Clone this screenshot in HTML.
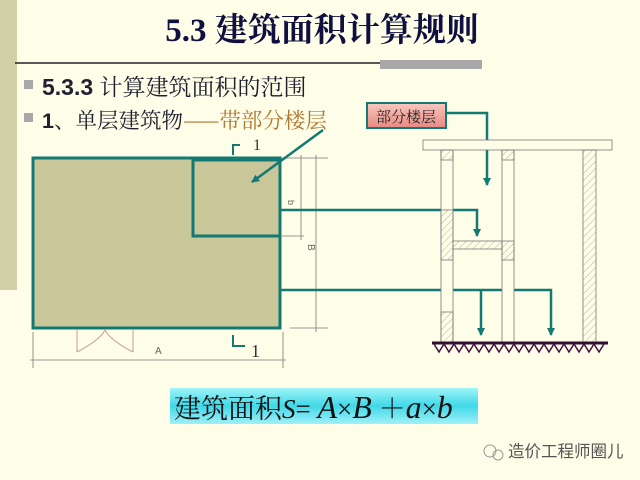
<!DOCTYPE html><html><head><meta charset="utf-8"><style>
body{margin:0;width:640px;height:480px;overflow:hidden;background:#fdfde8;font-family:"Liberation Sans","Noto Sans CJK SC",sans-serif}
</style></head><body>
<svg width="640" height="480" xmlns="http://www.w3.org/2000/svg" style="position:absolute;left:0;top:0">
<defs>
<pattern id="h" width="5" height="5" patternUnits="userSpaceOnUse" patternTransform="rotate(45)"><line x1="0" y1="0" x2="0" y2="5" stroke="#b8b49a" stroke-width="1"/></pattern>
<linearGradient id="cy" x1="0" y1="0" x2="0" y2="1"><stop offset="0" stop-color="#a0f4f8"/><stop offset=".5" stop-color="#40d8e8"/><stop offset="1" stop-color="#a0f0f8"/></linearGradient>
<linearGradient id="pk" x1="0" y1="0" x2="0" y2="1"><stop offset="0" stop-color="#f8c8c0"/><stop offset="1" stop-color="#e88880"/></linearGradient>
<marker id="a" markerWidth="8" markerHeight="8" refX="7" refY="4" orient="auto" markerUnits="userSpaceOnUse"><path d="M0,0 L8,4 L0,8 Z" fill="#127a72"/></marker>
</defs>
<rect x="0" y="0" width="17" height="290" fill="#d2d0a6"/>
<text x="322" y="41" text-anchor="middle" font-family="Liberation Serif,'Noto Serif CJK SC',serif" font-weight="bold" font-size="33" fill="#101040">5.3  建筑面积计算规则</text>
<line x1="15" y1="63" x2="470" y2="63" stroke="#222" stroke-width="1.5"/>
<rect x="380" y="60" width="102" height="9" fill="#a8a8a8"/>
<rect x="24" y="80" width="9" height="9" fill="#a8a8a8"/>
<text x="42" y="95" font-size="23" fill="#202030"><tspan font-weight="bold">5.3.3</tspan> <tspan font-family="'Noto Serif CJK SC',serif">计算建筑面积的范围</tspan></text>
<rect x="24" y="113" width="9" height="9" fill="#a8a8a8"/>
<text x="42" y="128" font-size="21.5" fill="#202030" font-family="'Noto Serif CJK SC',serif"><tspan font-weight="bold" font-family="Liberation Sans,sans-serif">1</tspan>、单层建筑物<tspan fill="#b07830">——带部分楼层</tspan></text>
<rect x="367" y="103" width="79" height="25" fill="url(#pk)" stroke="#127a72" stroke-width="2"/>
<text x="406" y="122" text-anchor="middle" font-size="15" font-family="'Noto Serif CJK SC',serif" fill="#222">部分楼层</text>
<rect x="33" y="158" width="247" height="170" fill="#c9c69a" stroke="#127a72" stroke-width="3"/>
<rect x="193" y="160" width="87" height="76" fill="none" stroke="#127a72" stroke-width="3"/>
<path d="M233,155 V145 H240" fill="none" stroke="#127a72" stroke-width="2"/>
<text x="253" y="150" font-size="16" font-family="Liberation Serif,serif" fill="#333">1</text>
<path d="M233,335 V346 H245" fill="none" stroke="#127a72" stroke-width="2"/>
<text x="251" y="357" font-size="18" font-family="Liberation Serif,serif" fill="#333">1</text>
<path d="M77,330 V352 M133,330 V352 M77,352 Q100,340 105,330 Q110,340 133,352" fill="none" stroke="#c8a090" stroke-width="1"/>
<g stroke="#777" stroke-width="0.8" fill="none">
<line x1="33" y1="332" x2="33" y2="368"/><line x1="283" y1="332" x2="283" y2="368"/>
<line x1="30" y1="360" x2="286" y2="360"/>
<line x1="282" y1="158" x2="328" y2="158"/><line x1="282" y1="236" x2="304" y2="236"/><line x1="290" y1="328" x2="328" y2="328"/>
<line x1="301" y1="155" x2="301" y2="240"/><line x1="316" y1="155" x2="316" y2="332"/>
</g>
<text x="155" y="354" font-size="10" fill="#666">A</text>
<text x="288" y="200" font-size="9" fill="#666" transform="rotate(90 288 200)">b</text>
<text x="308" y="244" font-size="10" fill="#666" transform="rotate(90 308 244)">B</text>
<g stroke="#127a72" stroke-width="2.5" fill="none">
<line x1="323" y1="130" x2="252" y2="182" marker-end="url(#a)"/>
<path d="M446,113 H487 V185" marker-end="url(#a)"/>
<path d="M280,210 H477 V236" marker-end="url(#a)"/>
<path d="M280,290 H551 V335" marker-end="url(#a)"/>
<path d="M481,290 V335" marker-end="url(#a)"/>
</g>
<g stroke="#777" stroke-width="0.8">
<rect x="423" y="140" width="189" height="10" fill="#fdfde8"/>
<rect x="441" y="150" width="12" height="192" fill="#fdfde8"/>
<rect x="502" y="150" width="12" height="192" fill="#fdfde8"/>
<rect x="583" y="150" width="13" height="192" fill="url(#h)"/>
<rect x="441" y="210" width="12" height="50" fill="url(#h)"/>
<rect x="441" y="312" width="12" height="30" fill="url(#h)"/>
<rect x="502" y="241" width="12" height="19" fill="url(#h)"/>
<rect x="453" y="241" width="49" height="8" fill="url(#h)"/>
<rect x="441" y="150" width="12" height="10" fill="url(#h)"/>
<rect x="502" y="150" width="12" height="10" fill="url(#h)"/>
</g>
<line x1="432" y1="343" x2="608" y2="343" stroke="#301030" stroke-width="3"/>
<path d="M434,344 l5,8 l5,-8 l5,8 l5,-8 l5,8 l5,-8 l5,8 l5,-8 l5,8 l5,-8 l5,8 l5,-8 l5,8 l5,-8 l5,8 l5,-8 l5,8 l5,-8 l5,8 l5,-8 l5,8 l5,-8 l5,8 l5,-8 l5,8 l5,-8 l5,8 l5,-8 l5,8 l5,-8 l5,8 l5,-8 l5,8 l5,-8" fill="none" stroke="#401040" stroke-width="1.5"/>
<rect x="170" y="388" width="308" height="36" fill="url(#cy)"/>
<text x="174" y="418" font-size="27" font-family="Liberation Serif,'Noto Serif CJK SC',serif" fill="#111">建筑面积<tspan font-style="italic">S</tspan>= <tspan font-style="italic" font-size="32">A</tspan>×<tspan font-style="italic" font-size="32">B</tspan> ＋<tspan font-style="italic" font-size="32">a</tspan>×<tspan font-style="italic" font-size="32">b</tspan></text>
<text x="508" y="457" font-size="16.5" fill="#555">造价工程师圈儿</text>
<circle cx="490" cy="451" r="6" fill="none" stroke="#999"/><circle cx="498" cy="455" r="5" fill="none" stroke="#999"/>
</svg>
</body></html>
